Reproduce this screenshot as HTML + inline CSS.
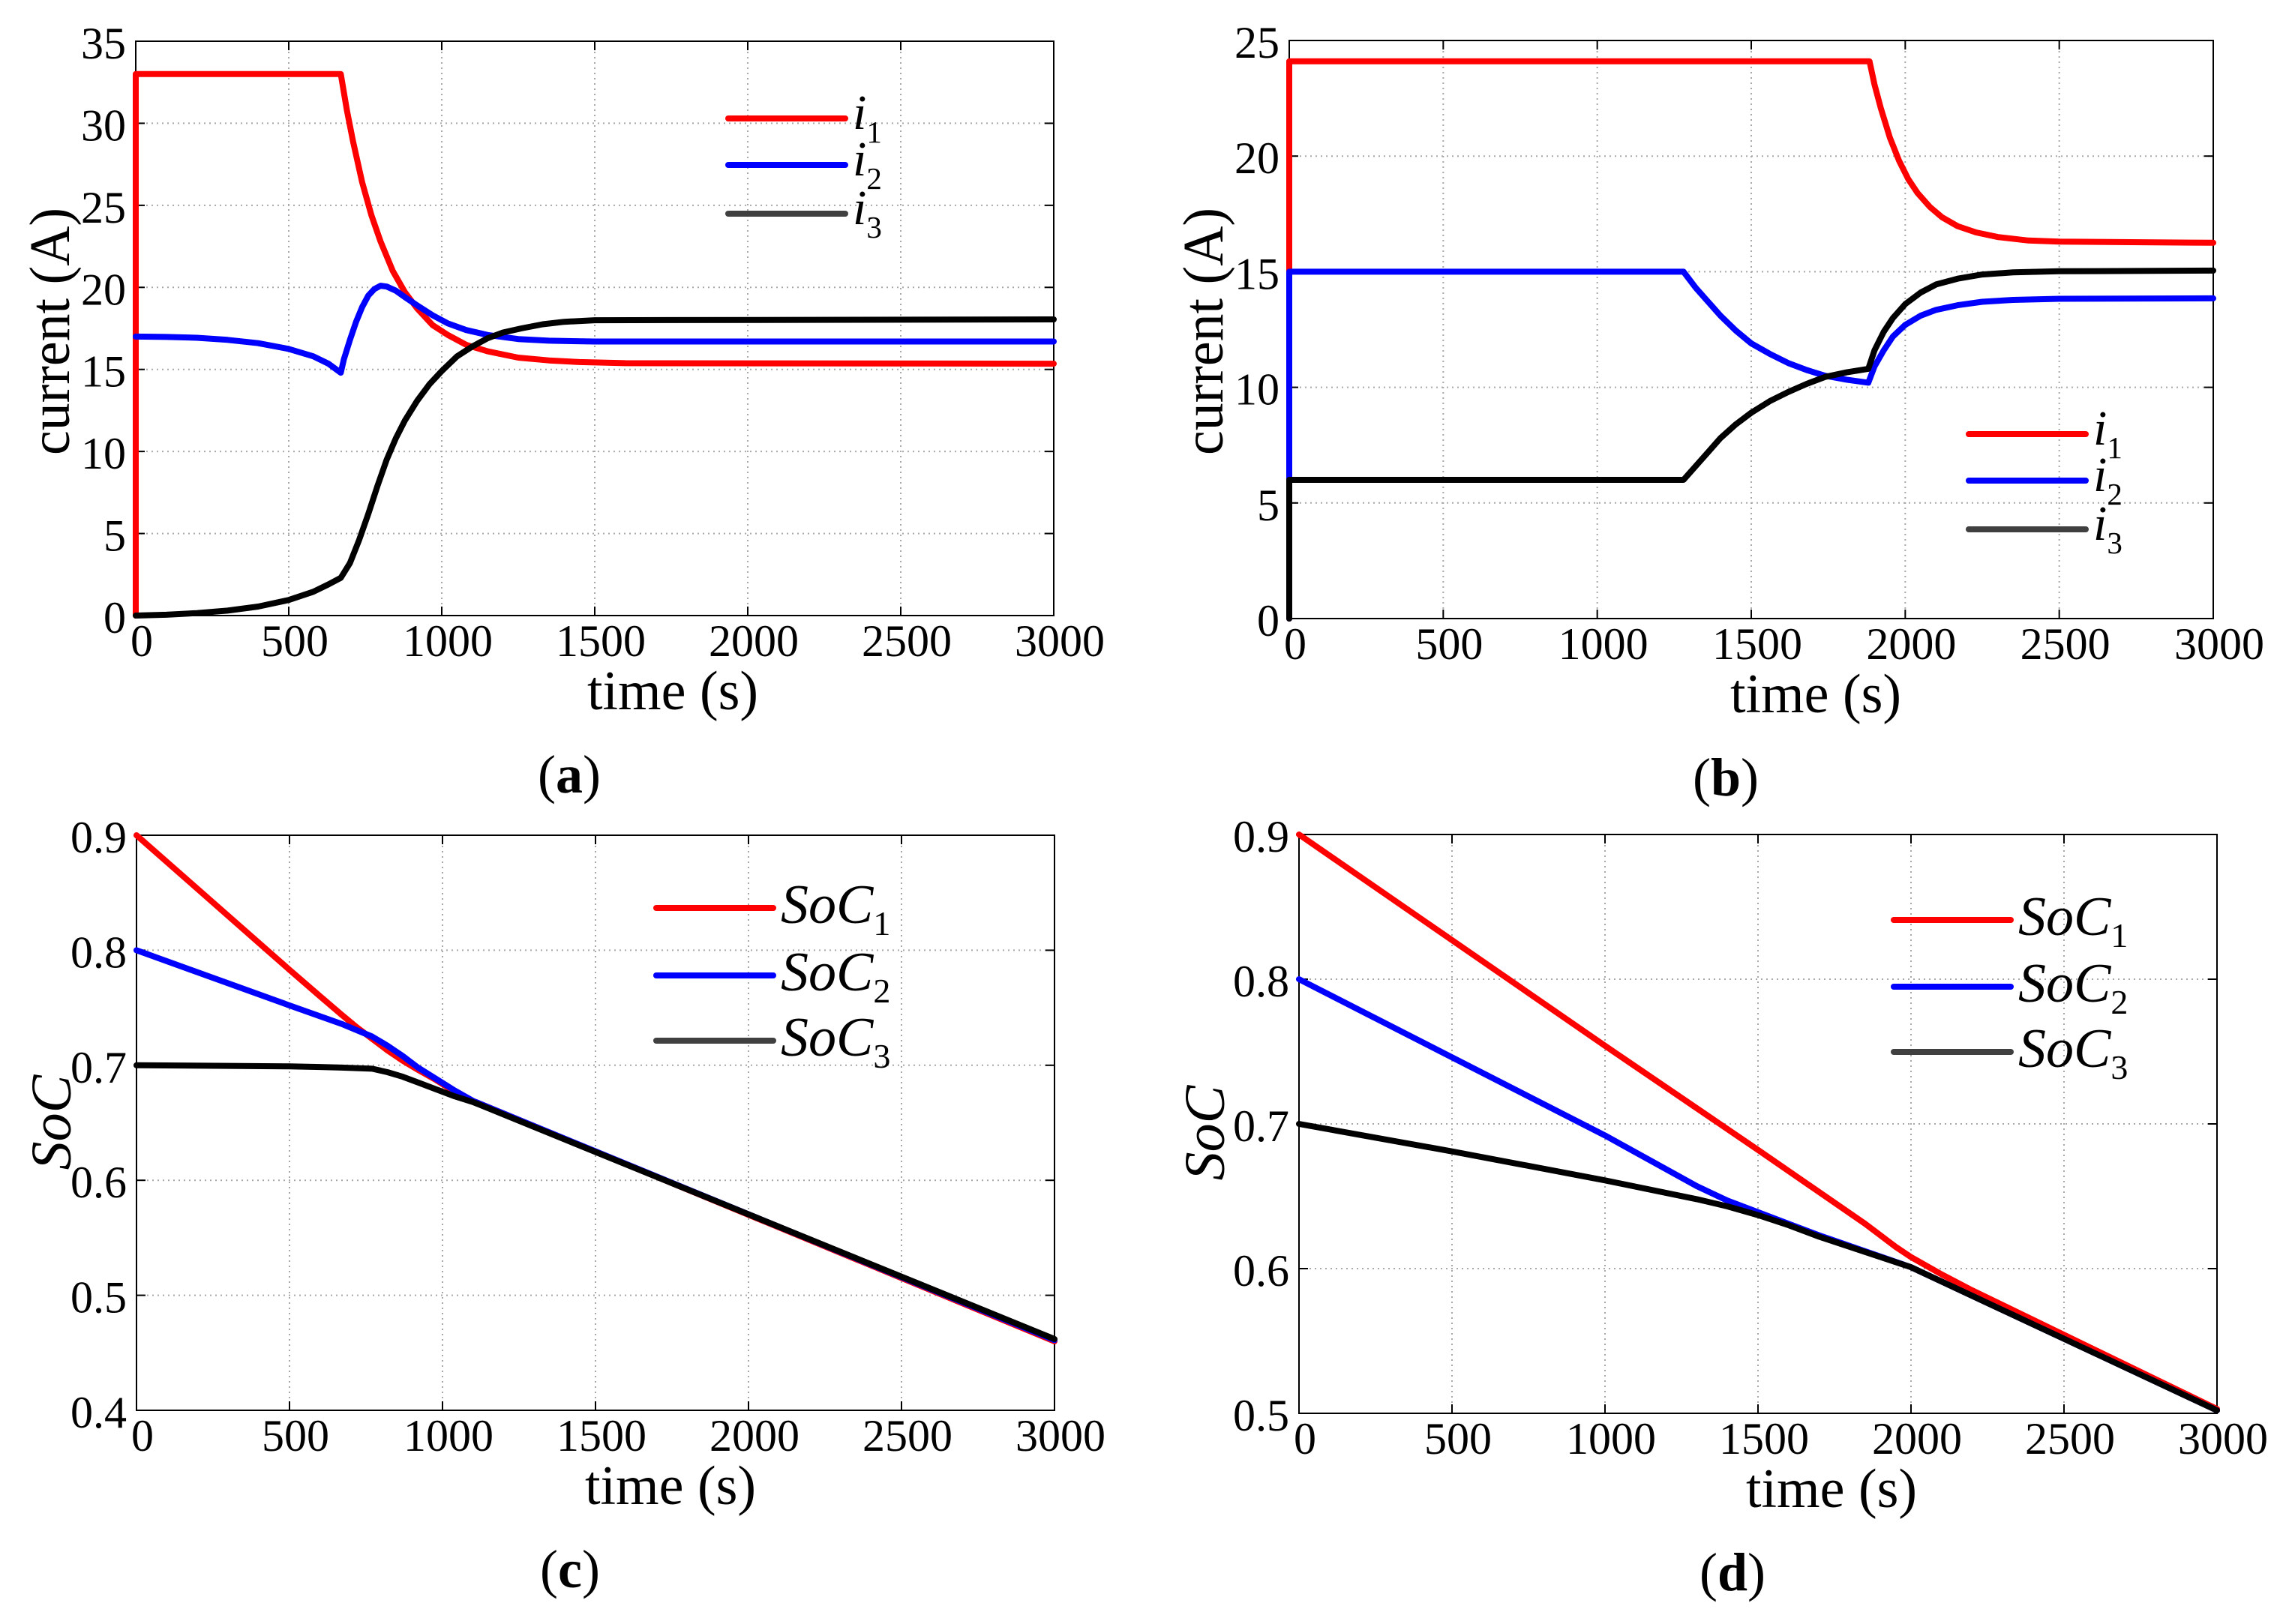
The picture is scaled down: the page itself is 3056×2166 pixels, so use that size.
<!DOCTYPE html>
<html><head><meta charset="utf-8"><style>
html,body{margin:0;padding:0;background:#fff;}
svg{display:block;}
text{font-family:"Liberation Serif","DejaVu Serif",serif;fill:#000;}
</style></head><body>
<svg id="fig" width="3056" height="2166" viewBox="0 0 3056 2166" xmlns="http://www.w3.org/2000/svg"></svg>
<script>
// ---- data ----
const xTicks = [0,500,1000,1500,2000,2500,3000];
const yTicksA = [0,5,10,15,20,25,30,35];
const yTicksB = [0,5,10,15,20,25];
const yTicksC = [0.4,0.5,0.6,0.7,0.8,0.9];
const yTicksD = [0.5,0.6,0.7,0.8,0.9];
const yLabelsC = ["0.4","0.5","0.6","0.7","0.8","0.9"];
const yLabelsD = ["0.5","0.6","0.7","0.8","0.9"];

const i1aT=[0,0,670,690,710,740,770,800,840,880,920,970,1020,1080,1150,1250,1350,1450,1600,3000];
const i1aV=[0,33,33,30.8,28.9,26.4,24.4,22.8,21.0,19.7,18.7,17.7,17.1,16.5,16.1,15.72,15.55,15.45,15.38,15.35];
const i2aT=[0,100,200,300,400,500,580,630,670,680,700,720,740,760,780,800,820,850,880,920,970,1020,1080,1150,1250,1350,1500,3000];
const i2aV=[17,16.98,16.93,16.8,16.6,16.25,15.8,15.35,14.8,15.6,16.8,17.9,18.8,19.5,19.9,20.1,20.05,19.8,19.4,18.9,18.3,17.8,17.4,17.1,16.85,16.75,16.7,16.7];
const i3aT=[0,100,200,300,400,500,580,630,670,700,730,760,790,820,850,880,920,960,1000,1050,1100,1150,1200,1260,1330,1400,1500,3000];
const i3aV=[0,0.05,0.15,0.3,0.55,0.95,1.45,1.9,2.3,3.2,4.6,6.2,7.9,9.5,10.8,11.9,13.1,14.1,14.9,15.8,16.4,16.9,17.25,17.5,17.75,17.9,18.0,18.05];

const i1bT=[0,0,1884,1900,1920,1950,1980,2010,2040,2080,2120,2170,2230,2300,2400,2500,3000];
const i1bV=[0,24.1,24.1,23.1,22.1,20.8,19.8,19.0,18.4,17.8,17.35,16.97,16.7,16.5,16.35,16.3,16.25];
const i2bT=[0,0,1280,1320,1360,1400,1450,1500,1560,1620,1680,1740,1810,1880,1900,1930,1960,2000,2050,2100,2170,2250,2350,2500,3000];
const i2bV=[0,15,15,14.3,13.7,13.1,12.45,11.9,11.45,11.05,10.75,10.5,10.33,10.2,10.9,11.6,12.2,12.7,13.1,13.35,13.55,13.7,13.78,13.83,13.85];
const i3bT=[0,0,1280,1320,1360,1400,1450,1500,1560,1620,1680,1740,1810,1880,1900,1930,1960,2000,2050,2100,2170,2250,2350,2500,3000];
const i3bV=[0,6,6,6.6,7.2,7.8,8.4,8.9,9.4,9.8,10.15,10.45,10.65,10.8,11.6,12.4,13.0,13.6,14.1,14.45,14.7,14.88,14.97,15.02,15.05];

const s1cT=[0,500,600,670,720,770,820,870,920,980,1040,1100,3000];
const s1cV=[0.9,0.783,0.76,0.744,0.733,0.723,0.713,0.704,0.696,0.687,0.677,0.669,0.46];
const s2cT=[0,500,670,770,820,870,920,980,1040,1100,3000];
const s2cV=[0.8,0.752,0.736,0.725,0.717,0.708,0.698,0.688,0.678,0.669,0.461];
const s3cT=[0,300,500,600,670,720,770,820,870,920,980,1040,1100,3000];
const s3cV=[0.7,0.6995,0.699,0.6985,0.698,0.6975,0.697,0.694,0.69,0.685,0.679,0.673,0.668,0.462];

const s1dT=[0,1000,1500,1850,1900,1950,2000,2050,2100,2200,3000];
const s1dV=[0.9,0.754,0.682,0.631,0.623,0.615,0.608,0.602,0.596,0.585,0.503];
const s2dT=[0,1000,1300,1400,1500,1600,1700,2000,3000];
const s2dV=[0.8,0.692,0.657,0.647,0.639,0.631,0.623,0.601,0.502];
const s3dT=[0,500,1000,1300,1400,1500,1600,1700,2000,3000];
const s3dV=[0.7,0.681,0.661,0.648,0.643,0.637,0.63,0.622,0.601,0.502];

// ---- drawing ----
const NS="http://www.w3.org/2000/svg";
const svg=document.getElementById('fig');
function mk(tag,attrs,parent){const e=document.createElementNS(NS,tag);for(const k in attrs)e.setAttribute(k,attrs[k]);(parent||svg).appendChild(e);return e;}

function panel(p){
  const g=mk('g',{});
  
  
  const sx=t=>p.L+(t-0)/(3000)*(p.R-p.L);
  const sy=v=>p.B-(v-p.ymin)/(p.ymax-p.ymin)*(p.B-p.T);
  xTicks.forEach((t,i)=>{
    if(i>0&&i<xTicks.length-1){const l=mk('line',{x1:sx(t),x2:sx(t),y1:p.T,y2:p.B,stroke:'#a8a8a8','stroke-width':2,'stroke-dasharray':'2 5'},g);
      }
    mk('line',{x1:sx(t),x2:sx(t),y1:p.B,y2:p.B-12,stroke:'#000','stroke-width':2},g);
    mk('line',{x1:sx(t),x2:sx(t),y1:p.T,y2:p.T+12,stroke:'#000','stroke-width':2},g);
    const tx=mk('text',{x:sx(t)+8,y:p.B+54,'font-size':60,'text-anchor':'middle'},g);
    tx.textContent=String(t);
    
  });
  p.yt.forEach((v,i)=>{
    if(i>0&&i<p.yt.length-1){const l=mk('line',{x1:p.L,x2:p.R,y1:sy(v),y2:sy(v),stroke:'#a8a8a8','stroke-width':2,'stroke-dasharray':'2 5'},g);
      }
    mk('line',{x1:p.L,x2:p.L+12,y1:sy(v),y2:sy(v),stroke:'#000','stroke-width':2},g);
    mk('line',{x1:p.R,x2:p.R-12,y1:sy(v),y2:sy(v),stroke:'#000','stroke-width':2},g);
    const tx=mk('text',{x:p.L-13,y:sy(v)+23,'font-size':60,'text-anchor':'end'},g);
    tx.textContent=p.yl?p.yl[i]:String(v);
    
  });
  const box=mk('rect',{x:p.L,y:p.T,width:p.R-p.L,height:p.B-p.T,fill:'none',stroke:'#000','stroke-width':2},g);
  
  p.series.forEach(s=>{
    const d=s.t.map((t,i)=>(i?'L':'M')+sx(t).toFixed(1)+','+sy(s.v[i]).toFixed(1)).join('');
    const path=mk('path',{d:d,fill:'none',stroke:s.c,'stroke-width':8,'stroke-linejoin':'round','stroke-linecap':'round'},g);
    
  });
  p.series.forEach((s,i)=>{
    const y=p.leg.y[i];
    const l=mk('line',{x1:p.leg.x1,x2:p.leg.x2,y1:y,y2:y,stroke:s.lc,'stroke-width':8,'stroke-linecap':'round'},g);
    
    const tx=mk('text',{x:p.leg.x2+10,y:y+p.leg.dy,'font-size':p.leg.fs,'font-style':'italic'},g);
    
    const a=document.createElementNS(NS,'tspan');a.textContent=p.leg.base;tx.appendChild(a);
    const b=document.createElementNS(NS,'tspan');b.setAttribute('font-size',Math.round(p.leg.fs*0.62));b.setAttribute('font-style','normal');b.setAttribute('dy',p.leg.sub);b.textContent=String(i+1);tx.appendChild(b);
  });
  const xt=mk('text',{x:(p.L+p.R)/2+p.xtoff,y:p.B+125,'font-size':74,'text-anchor':'middle'},g);
  xt.textContent='time (s)';
  const yt=mk('text',{x:0,y:0,'font-size':p.ytfs,'text-anchor':'middle','font-style':p.ytitalic?'italic':'normal',transform:`translate(${p.ytx},${p.yty}) rotate(-90)`},g);
  yt.textContent=p.ytitle;
  if(p.ytlen){yt.setAttribute('textLength',p.ytlen);yt.setAttribute('lengthAdjust','spacingAndGlyphs');}
  const pl=mk('text',{x:(p.L+p.R)/2-34,y:p.B+236,'font-size':72,'text-anchor':'middle'},g);
  
  pl.innerHTML='(<tspan font-weight="bold">'+p.lab+'</tspan>)';
}

const R='#ff0000',Bl='#0000ff',K='#000000',KL='#404040';
panel({name:'panel-a-current',L:181,R:1405,T:55,B:821,ymin:0,ymax:35,yt:yTicksA,xtoff:104,
  series:[{t:i1aT,v:i1aV,c:R,lc:R,n:'series-i1'},{t:i2aT,v:i2aV,c:Bl,lc:Bl,n:'series-i2'},{t:i3aT,v:i3aV,c:K,lc:KL,n:'series-i3'}],
  leg:{x1:971,x2:1127,y:[158,220,285],dy:14,fs:66,base:'i',sub:18},
  ytitle:'current (A)',ytfs:76,ytx:92,yty:442,ytlen:330,lab:'a'});
panel({name:'panel-b-current',L:1719,R:2951,T:54,B:825,ymin:0,ymax:25,yt:yTicksB,xtoff:86,
  series:[{t:i1bT,v:i1bV,c:R,lc:R,n:'series-i1'},{t:i2bT,v:i2bV,c:Bl,lc:Bl,n:'series-i2'},{t:i3bT,v:i3bV,c:K,lc:KL,n:'series-i3'}],
  leg:{x1:2625,x2:2781,y:[579,641,706],dy:14,fs:66,base:'i',sub:18},
  ytitle:'current (A)',ytfs:76,ytx:1630,yty:442,ytlen:330,lab:'b'});
panel({name:'panel-c-soc',L:182,R:1406,T:1114,B:1881,ymin:0.4,ymax:0.9,yt:yTicksC,yl:yLabelsC,xtoff:100,
  series:[{t:s1cT,v:s1cV,c:R,lc:R,n:'series-soc1'},{t:s2cT,v:s2cV,c:Bl,lc:Bl,n:'series-soc2'},{t:s3cT,v:s3cV,c:K,lc:KL,n:'series-soc3'}],
  leg:{x1:875,x2:1031,y:[1211,1301,1388],dy:20,fs:74,base:'SoC',sub:16},
  ytitle:'SoC',ytfs:76,ytitalic:true,ytx:94,yty:1497,lab:'c'});
panel({name:'panel-d-soc',L:1732,R:2956,T:1113,B:1885,ymin:0.5,ymax:0.9,yt:yTicksD,yl:yLabelsD,xtoff:98,
  series:[{t:s1dT,v:s1dV,c:R,lc:R,n:'series-soc1'},{t:s2dT,v:s2dV,c:Bl,lc:Bl,n:'series-soc2'},{t:s3dT,v:s3dV,c:K,lc:KL,n:'series-soc3'}],
  leg:{x1:2525,x2:2681,y:[1227,1316,1403],dy:20,fs:74,base:'SoC',sub:16},
  ytitle:'SoC',ytfs:76,ytitalic:true,ytx:1632,yty:1511,lab:'d'});
</script>
</body></html>
